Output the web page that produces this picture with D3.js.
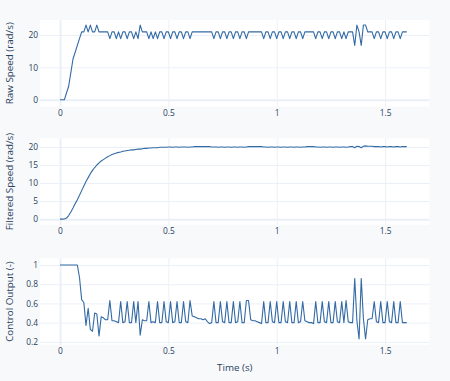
<!DOCTYPE html>
<html>
<head>
<meta charset="utf-8">
<style>
  html, body { margin: 0; padding: 0; background: #f8f9fa; }
  svg { display: block; }
  .tick text { fill: #2a3f5f; font-size: 8.4px; }
  .title { fill: #2a3f5f; font-size: 9.8px; }
</style>
</head>
<body>
<script src="https://cdn.jsdelivr.net/npm/d3@7"></script>
<script>
// sample times (s)
const time = [0,0.01,0.02,0.03,0.04,0.05,0.06,0.07,0.08,0.09,
  0.1,0.11,0.12,0.13,0.14,0.15,0.16,0.17,0.18,0.19,
  0.2,0.21,0.22,0.23,0.24,0.25,0.26,0.27,0.28,0.29,
  0.3,0.31,0.32,0.33,0.34,0.35,0.36,0.37,0.38,0.39,
  0.4,0.41,0.42,0.43,0.44,0.45,0.46,0.47,0.48,0.49,
  0.5,0.51,0.52,0.53,0.54,0.55,0.56,0.57,0.58,0.59,
  0.6,0.61,0.62,0.63,0.64,0.65,0.66,0.67,0.68,0.69,
  0.7,0.71,0.72,0.73,0.74,0.75,0.76,0.77,0.78,0.79,
  0.8,0.81,0.82,0.83,0.84,0.85,0.86,0.87,0.88,0.89,
  0.9,0.91,0.92,0.93,0.94,0.95,0.96,0.97,0.98,0.99,
  1,1.01,1.02,1.03,1.04,1.05,1.06,1.07,1.08,1.09,
  1.1,1.11,1.12,1.13,1.14,1.15,1.16,1.17,1.18,1.19,
  1.2,1.21,1.22,1.23,1.24,1.25,1.26,1.27,1.28,1.29,
  1.3,1.31,1.32,1.33,1.34,1.35,1.36,1.37,1.38,1.39,
  1.4,1.41,1.42,1.43,1.44,1.45,1.46,1.47,1.48,1.49,
  1.5,1.51,1.52,1.53,1.54,1.55,1.56,1.57,1.58,1.59,1.6];

const rawSpeed = [0,0,0,2.09,4.19,8.38,12.57,14.66,16.76,18.85,
  20.94,20.94,23.04,20.94,23.04,20.94,20.94,23.04,20.94,20.94,
  20.94,20.94,20.94,18.85,20.94,20.94,18.85,20.94,18.85,20.94,
  20.94,18.85,20.94,20.94,18.85,20.94,18.85,23.04,20.94,20.94,
  20.94,18.85,20.94,18.85,20.94,18.85,20.94,20.94,18.85,20.94,
  20.94,18.85,20.94,20.94,18.85,20.94,20.94,18.85,20.94,20.94,
  18.85,20.94,20.94,20.94,20.94,20.94,20.94,20.94,20.94,20.94,
  20.94,18.85,20.94,20.94,18.85,20.94,20.94,18.85,20.94,20.94,
  18.85,20.94,20.94,18.85,20.94,20.94,18.85,20.94,20.94,20.94,
  20.94,20.94,20.94,20.94,18.85,20.94,20.94,18.85,20.94,20.94,
  18.85,20.94,20.94,18.85,20.94,20.94,18.85,20.94,20.94,18.85,
  20.94,20.94,18.85,20.94,20.94,20.94,20.94,20.94,18.85,20.94,
  20.94,18.85,20.94,20.94,18.85,20.94,20.94,18.85,20.94,20.94,
  18.85,20.94,18.85,20.94,20.94,20.94,16.76,23.04,20.94,16.76,
  23.04,23.04,20.94,20.94,20.94,18.85,20.94,20.94,18.85,20.94,
  20.94,18.85,20.94,20.94,18.85,20.94,20.94,18.85,20.94,20.94,20.94];

const filteredSpeed = [0,0,0.05,0.3,1.0,2.0,3.1,4.3,5.4,6.6,
  7.9,9.2,10.4,11.5,12.6,13.5,14.3,15.0,15.6,16.1,
  16.5,16.9,17.3,17.6,17.9,18.1,18.3,18.5,18.6,18.8,
  18.9,19.0,19.1,19.2,19.2,19.3,19.4,19.4,19.5,19.6,
  19.6,19.7,19.7,19.8,19.8,19.8,19.9,19.9,19.9,19.9,
  20.0,20.0,19.9,20.0,20.0,19.9,20.0,20.0,20.0,19.9,
  20.0,20.0,20.1,20.1,20.1,20.1,20.1,20.1,20.1,20.1,
  20.0,20.0,20.0,19.9,20.0,20.0,19.9,20.0,20.0,19.9,
  20.0,20.0,19.9,20.0,20.0,19.9,20.0,20.1,20.1,20.1,
  20.1,20.1,20.1,20.1,20.0,20.0,19.9,20.0,20.0,19.9,
  20.0,20.0,19.9,20.0,20.0,19.9,20.0,20.0,19.9,20.0,
  20.0,19.9,20.0,20.0,20.1,20.1,20.1,20.1,20.0,20.0,
  19.9,20.0,20.0,19.9,20.0,20.0,19.9,20.0,20.0,19.9,
  20.0,20.0,19.9,20.0,20.1,20.1,19.8,20.2,20.1,19.8,
  20.2,20.3,20.2,20.2,20.2,20.1,20.1,20.1,20.0,20.1,
  20.1,20.0,20.1,20.1,20.0,20.1,20.1,20.0,20.1,20.1,20.1];

const controlOutput = [1,1,1,1,1,1,1,1,1,0.87,
  0.64,0.61,0.37,0.55,0.33,0.31,0.50,0.49,0.26,0.46,
  0.45,0.43,0.43,0.63,0.42,0.42,0.41,0.40,0.62,0.40,
  0.41,0.62,0.40,0.40,0.62,0.40,0.62,0.27,0.43,0.42,
  0.42,0.62,0.40,0.41,0.40,0.62,0.40,0.40,0.62,0.41,
  0.40,0.62,0.40,0.41,0.62,0.40,0.40,0.62,0.41,0.40,
  0.63,0.47,0.46,0.45,0.44,0.44,0.43,0.44,0.41,0.39,
  0.40,0.62,0.40,0.40,0.62,0.41,0.40,0.62,0.40,0.40,
  0.62,0.40,0.41,0.62,0.40,0.40,0.63,0.63,0.43,0.42,
  0.42,0.41,0.40,0.39,0.62,0.40,0.40,0.62,0.41,0.40,
  0.62,0.40,0.40,0.62,0.41,0.40,0.62,0.40,0.40,0.62,
  0.40,0.41,0.62,0.42,0.41,0.40,0.40,0.39,0.62,0.40,
  0.40,0.62,0.41,0.40,0.62,0.40,0.40,0.62,0.41,0.40,
  0.62,0.40,0.63,0.41,0.40,0.40,0.86,0.42,0.23,0.86,
  0.44,0.23,0.43,0.44,0.44,0.62,0.41,0.40,0.62,0.40,
  0.40,0.62,0.41,0.40,0.62,0.40,0.40,0.62,0.40,0.40,0.40];

const xTicks = [0, 0.5, 1, 1.5];
const panelTitles = ["Raw Speed (rad/s)", "Filtered Speed (rad/s)", "Control Output (-)"];
const panelTicks = [[0, 10, 20], [0, 5, 10, 15, 20], [0.2, 0.4, 0.6, 0.8, 1]];
const panelRanges = [[-2.06, 24.6], [-1.57, 22.4], [0.169, 1.07]];
const panelSeries = [rawSpeed, filteredSpeed, controlOutput];

const W = 450, H = 381;
const left = 40, right = 429.5;
const panelTop = [20, 138.3, 258.3];
const panelH = 86.5;
const lineColor = "#336aa4";
const gridColor = "#ebf0f8";
const font = '"Open Sans", verdana, arial, sans-serif';

const svg = d3.select("body").append("svg")
  .attr("width", W).attr("height", H)
  .style("font-family", font);

const x = d3.scaleLinear().domain([-0.0923, 1.705]).range([left, right]);

panelSeries.forEach((series, p) => {
  const top = panelTop[p], bottom = top + panelH;
  const y = d3.scaleLinear().domain(panelRanges[p]).range([bottom, top]);
  const g = svg.append("g");

  g.append("rect").attr("x", left).attr("y", top)
    .attr("width", right - left).attr("height", panelH).attr("fill", "#fff");

  // x grid + labels
  const xa = g.append("g").attr("transform", `translate(0,${bottom})`)
    .call(d3.axisBottom(x).tickValues(xTicks).tickFormat(d3.format("~g"))
      .tickSize(-panelH).tickPadding(3.5));
  xa.select(".domain").remove();
  xa.selectAll(".tick line").attr("stroke", gridColor)
    .attr("stroke-width", d => d === 0 ? 2 : 1);

  // y grid + labels
  const ya = g.append("g").attr("transform", `translate(${left},0)`)
    .call(d3.axisLeft(y).tickValues(panelTicks[p]).tickFormat(d3.format("~g"))
      .tickSize(-(right - left)).tickPadding(2));
  ya.select(".domain").remove();
  ya.selectAll(".tick line").attr("stroke", gridColor)
    .attr("stroke-width", d => d === 0 ? 2 : 1);
  g.selectAll(".tick text").style("font-family", font);

  const line = d3.line().x((d, i) => x(time[i])).y(d => y(d));
  g.append("path").datum(series)
    .attr("d", line)
    .attr("fill", "none")
    .attr("stroke", lineColor)
    .attr("stroke-width", 1.1)
    .attr("stroke-linejoin", "round");

  g.append("text").attr("class", "title")
    .attr("transform", `translate(13,${top + panelH / 2}) rotate(-90)`)
    .attr("text-anchor", "middle")
    .text(panelTitles[p]);
});

svg.append("text").attr("class", "title")
  .attr("x", (left + right) / 2).attr("y", 371)
  .attr("text-anchor", "middle")
  .text("Time (s)");
</script>
</body>
</html>
